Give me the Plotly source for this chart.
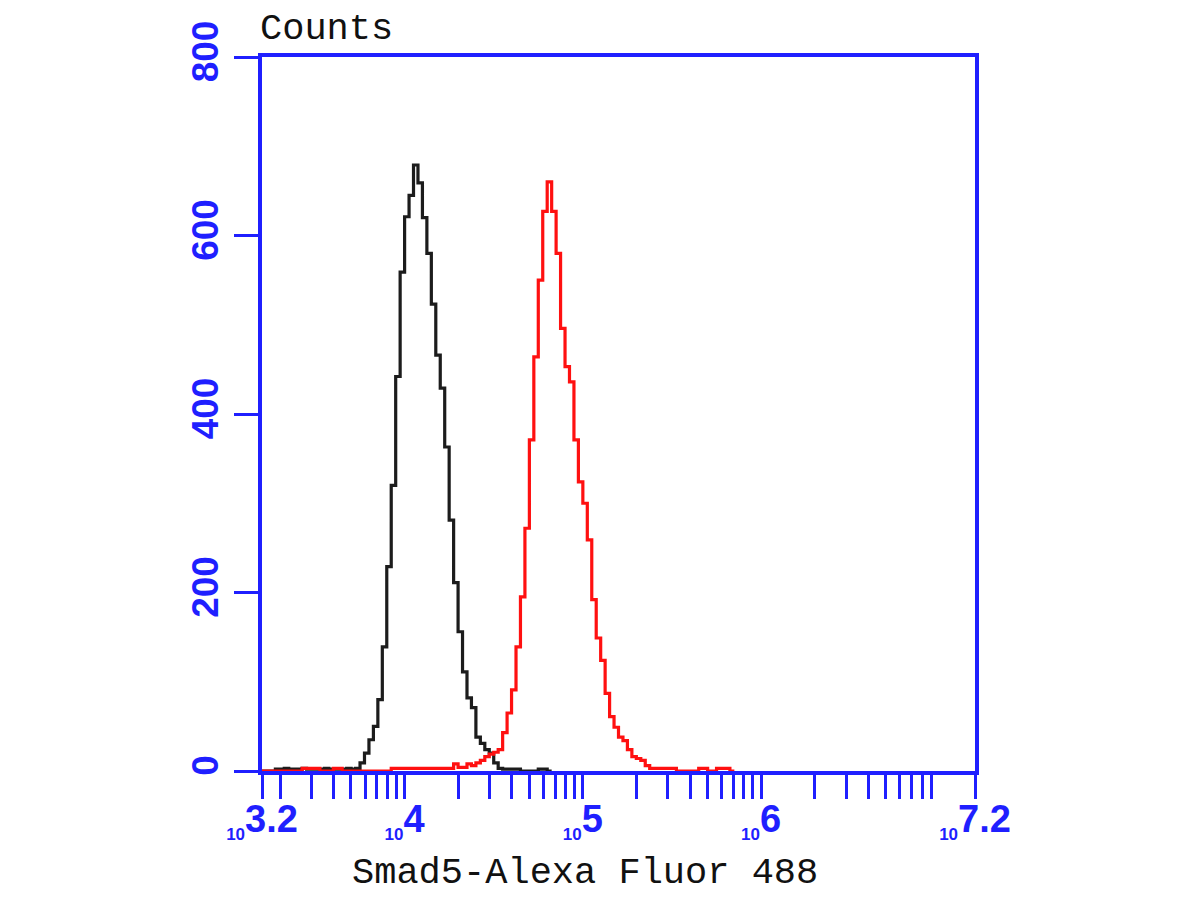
import plotly.graph_objects as go

# ---- data (histogram counts per log-spaced channel bin) ----
BIN_LOG_START = 3.2      # log10 of first bin's left edge
BIN_LOG_WIDTH = 0.025    # log10 width of each bin

black_counts = [0, 0, 0, 2, 2, 3, 2, 2, 2, 3, 2, 2, 2, 2, 3, 2, 2, 2, 2, 3,
                2, 3, 9, 20, 35, 50, 80, 139, 229, 320, 442, 559, 621, 645, 679, 659,
                620, 580, 523, 466, 429, 363, 281, 211, 156, 111, 82, 71, 38, 31, 24,
                20, 9, 3, 2, 2, 2, 2, 0, 0, 0, 0, 2, 2, 0]

red_counts = [0, 0, 0, 0, 0, 0, 0, 0, 0, 3, 3, 3, 3, 0, 0, 0, 3, 3, 0, 0,
              0, 0, 0, 0, 0, 0, 0, 0, 0, 3, 3, 3, 3, 3, 3, 3, 3, 3, 3, 3,
              3, 3, 3, 8, 4, 4, 8, 6, 9, 12, 16, 19, 21, 24, 43, 65, 91, 139, 195, 272,
              371, 464, 550, 627, 660, 627, 580, 496, 453, 436, 371, 324, 300, 259, 192, 149,
              124, 87, 61, 49, 38, 34, 24, 16, 14, 12, 6, 3, 3, 3, 3, 3, 3, 0, 0, 0,
              0, 0, 3, 3, 0, 0, 3, 3, 3, 0]

series_names = ["Control", "Smad5"]
series_colors = ["#1c1c1c", "#ff1010"]

y_tick_values = [0, 200, 400, 600, 800]
x_major_exponents = ["3.2", "4", "5", "6", "7.2"]

x_title = "Smad5-Alexa Fluor 488"
y_title = "Counts"

BLUE = "#1f1fff"


def step_xy(counts):
    xs, ys = [], []
    for i, c in enumerate(counts):
        xs.append(10 ** (BIN_LOG_START + i * BIN_LOG_WIDTH))
        ys.append(c)
    xs.append(10 ** (BIN_LOG_START + len(counts) * BIN_LOG_WIDTH))
    ys.append(counts[-1])
    return xs, ys


fig = go.Figure()
for counts, name, color in zip([black_counts, red_counts], series_names, series_colors):
    xs, ys = step_xy(counts)
    fig.add_trace(go.Scatter(x=xs, y=ys, mode="lines", name=name,
                             line=dict(color=color, width=3.2, shape="hv")))

# log ticks: majors labelled, minor ticks unlabelled (same length)
tickvals, ticktext = [], []
for e in x_major_exponents:
    tickvals.append(10 ** float(e))
    ticktext.append("<sub><span style='font-size:17px'>10</span></sub>" + e)
for dec in range(3, 7):
    for m in range(2, 10):
        v = m * 10 ** dec
        if 10 ** 3.2 < v < 10 ** 7.2:
            tickvals.append(v)
            ticktext.append("")

fig.update_xaxes(type="log", range=[3.2, 7.2],
                 tickmode="array", tickvals=tickvals, ticktext=ticktext,
                 ticks="outside", ticklen=24, tickwidth=3, tickcolor=BLUE,
                 showline=True, linewidth=3.5, linecolor=BLUE, mirror=True,
                 showgrid=False, zeroline=False, tickangle=0,
                 ticklabelstandoff=-12,
                 tickfont=dict(family="Liberation Sans", size=38, color=BLUE, weight="bold"))
fig.update_yaxes(range=[0, 800], tickmode="array", tickvals=y_tick_values,
                 ticktext=[str(v) for v in y_tick_values],
                 ticks="outside", ticklen=24, tickwidth=3, tickcolor=BLUE,
                 showline=True, linewidth=3.5, linecolor=BLUE, mirror=True,
                 showgrid=False, zeroline=False, tickangle=-90,
                 ticklabelstandoff=1,
                 tickfont=dict(family="Liberation Sans", size=37, color=BLUE, weight="bold"))

fig.add_annotation(text=y_title, xref="paper", yref="paper", x=-0.006, y=1.039,
                   xanchor="left", yanchor="middle", showarrow=False,
                   font=dict(family="Liberation Mono", size=37, color="#111111"))
fig.add_annotation(text=x_title, xref="paper", yref="paper", x=0.453, y=-0.143,
                   xanchor="center", yanchor="middle", showarrow=False,
                   font=dict(family="Liberation Mono", size=37, color="#111111"))

fig.update_layout(width=1200, height=900, showlegend=False,
                  paper_bgcolor="white", plot_bgcolor="white",
                  margin=dict(l=254, r=233, t=49, b=137))

fig.write_html("out.html")
